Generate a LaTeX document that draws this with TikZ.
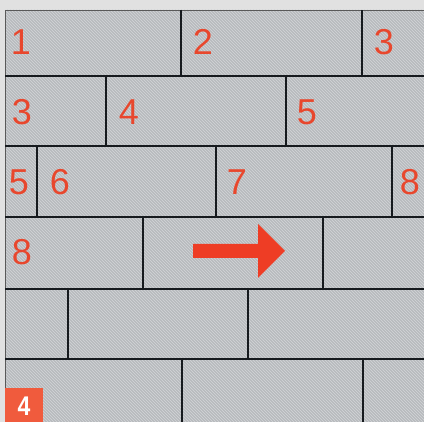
\documentclass[tikz,border=0pt]{standalone}
\usepackage{fontspec}
\setmainfont{Liberation Sans}
\usetikzlibrary{patterns}
\definecolor{bgout}{HTML}{E1E1E1}
\definecolor{tile}{HTML}{B7BABD}
\definecolor{stripe}{HTML}{D4D6D8}
\definecolor{joint}{HTML}{161A1E}
\definecolor{numred}{HTML}{E8472D}
\definecolor{arrowred}{HTML}{EE3D25}
\definecolor{badge}{HTML}{F05B3D}
\tikzset{
  joints/.style={draw=joint, line width=2.3pt},
  num/.style={text=numred, inner sep=0pt, font=\fontsize{36}{36}\selectfont},
}
\begin{document}
\begin{tikzpicture}[x=1pt,y=-1pt]
\useasboundingbox (0,0) rectangle (424,422);
\fill[bgout] (0,0) rectangle (424,422);
\fill[tile] (5,10) rectangle (424,422);
\fill[pattern=north west lines, pattern color=stripe] (5,10) rectangle (424,422);
\draw[gray!70!black, line width=0.8pt] (5,422) -- (5,10) -- (424,10);
% horizontal joints
\foreach \y in {76,146,217,289,359} \draw[joints] (5,\y) -- (424,\y);
% vertical joints
\draw[joints] (181,10) -- (181,76) (362,10) -- (362,76);
\draw[joints] (106,76) -- (106,146) (286,76) -- (286,146);
\draw[joints] (37,146) -- (37,217) (216,146) -- (216,217) (392,146) -- (392,217);
\draw[joints] (143,217) -- (143,289) (323,217) -- (323,289);
\draw[joints] (68,289) -- (68,359) (248,289) -- (248,359);
\draw[joints] (182,359) -- (182,422) (363,359) -- (363,422);
% numbers
\node[num] (n1) at (21,42) {1};
\node[num] (n2) at (203,42) {2};
\node[num] (n3a) at (384,42) {3};
\node[num] (n3b) at (22,112) {3};
\node[num] (n4) at (129,112) {4};
\node[num] (n5a) at (307,112) {5};
\node[num] (n5b) at (19,182) {5};
\node[num] (n6) at (60,182) {6};
\node[num] (n7) at (237,182) {7};
\node[num] (n8a) at (410,182) {8};
\node[num] (n8b) at (22,252) {8};
% arrow
\fill[arrowred] (193,244) -- (258,244) -- (258,224) -- (285,251) -- (258,278) -- (258,258) -- (193,258) -- cycle;
% badge
\fill[badge] (5,388) rectangle (43,422);
\node[text=white, inner sep=0pt, xscale=0.85, font=\bfseries\fontsize{27}{27}\selectfont] (badge4) at (24,406) {4};
\end{tikzpicture}
\end{document}
